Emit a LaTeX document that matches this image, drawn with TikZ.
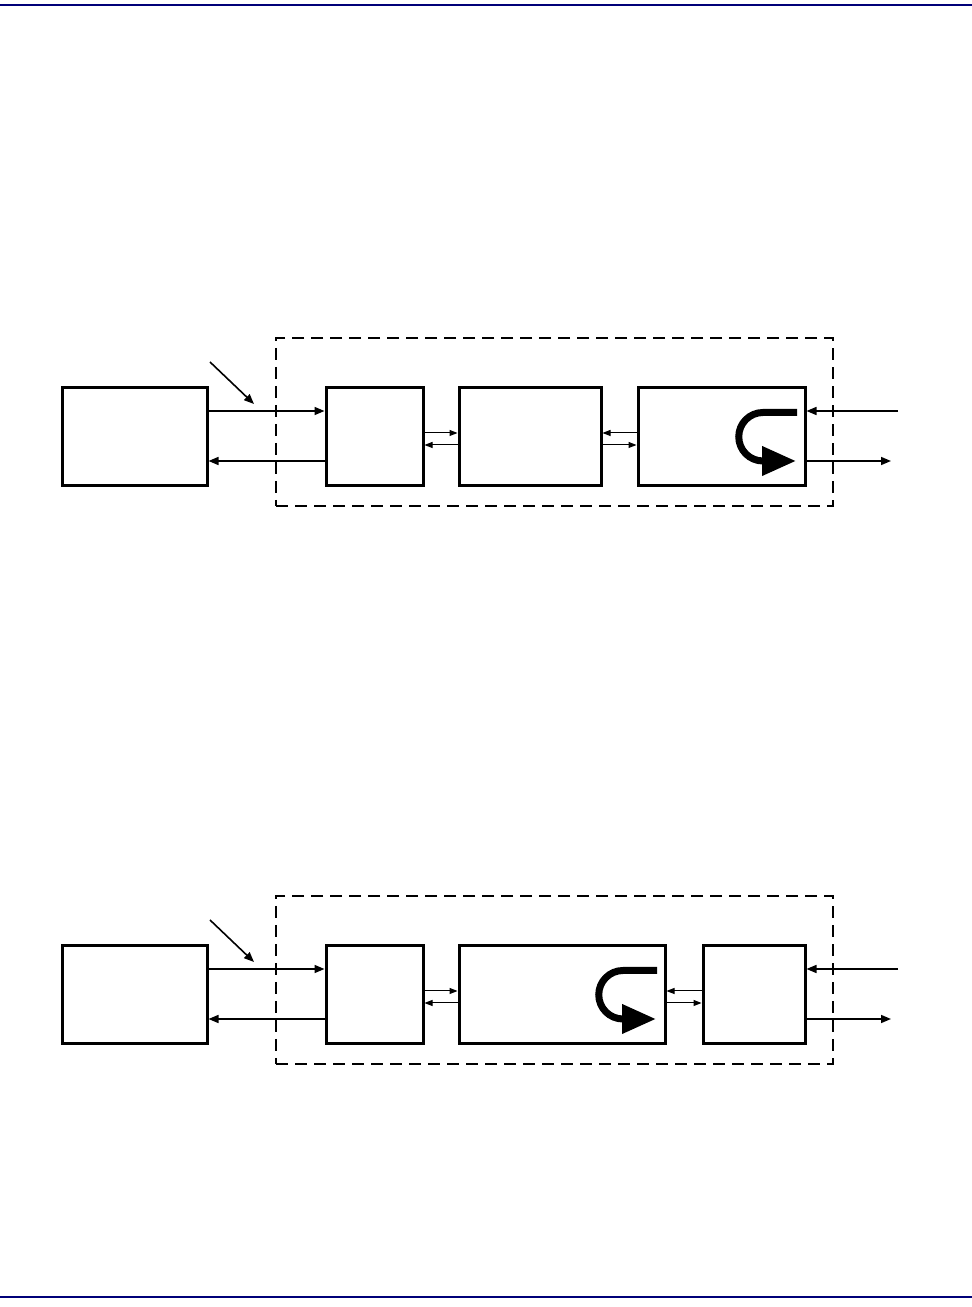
\documentclass[tikz,border=0pt]{standalone}
\usetikzlibrary{arrows.meta}
\definecolor{rulenavy}{RGB}{0,0,120}
\begin{document}
\begin{tikzpicture}[x=1pt,y=1pt,
  blk/.style={draw, line width=3pt, minimum height=98pt, inner sep=0pt},
  encl/.style={draw, line width=1.3pt, dash pattern=on 12pt off 7pt},
  arr/.style={line width=1.6pt, -{Triangle[length=10pt,width=8pt]}},
  sarr/.style={line width=1pt, -{Triangle[length=8pt,width=6pt]}},
  loop/.style={line width=7pt, -{Triangle[length=34pt,width=28pt]}},
  rulebar/.style={draw=rulenavy, line width=2.5pt}]
\useasboundingbox (0,0) rectangle (972,1307);
\coordinate (hl) at (0,1302); \coordinate (hr) at (972,1302);
\coordinate (fl) at (0,10); \coordinate (fr) at (972,10);
\draw[rulebar] (hl) -- (hr);
\draw[rulebar] (fl) -- (fr);

% ---------- diagram 1 ----------
\node[encl, minimum width=557pt, minimum height=168pt] (D1) at (554.5,885) {};
\node[blk, minimum width=145pt] (L1) at (134.5,870) {};
\node[blk, minimum width=97pt] (A1) at (374.5,870) {};
\node[blk, minimum width=142pt] (B1) at (530,870) {};
\node[blk, minimum width=167pt] (C1) at (721.5,870) {};
\draw[arr] ([yshift=26pt]L1.east) -- ([yshift=26pt]A1.west);
\draw[arr] ([yshift=-24pt]A1.west) -- ([yshift=-24pt]L1.east);
\coordinate (p1s) at (210,945); \coordinate (p1e) at (254,903);
\draw[arr] (p1s) -- (p1e);
\draw[sarr] ([yshift=4pt]A1.east) -- ([yshift=4pt]B1.west);
\draw[sarr] ([yshift=-8pt]B1.west) -- ([yshift=-8pt]A1.east);
\draw[sarr] ([yshift=4pt]C1.west) -- ([yshift=4pt]B1.east);
\draw[sarr] ([yshift=-8pt]B1.east) -- ([yshift=-8pt]C1.west);
\coordinate (r1i) at (898,896); \coordinate (r1o) at (891,846);
\draw[arr] (r1i) -- ([yshift=26pt]C1.east);
\draw[arr] ([yshift=-24pt]C1.east) -- (r1o);
\draw[loop] (797,894.5) -- (763,894.5) arc[start angle=90,end angle=270,radius=24.25] -- (796,846);

% ---------- diagram 2 ----------
\node[encl, minimum width=557pt, minimum height=168pt] (D2) at (554.5,327) {};
\node[blk, minimum width=145pt] (L2) at (134.5,312) {};
\node[blk, minimum width=97pt] (A2) at (374.5,312) {};
\node[blk, minimum width=206pt] (B2) at (562,312) {};
\node[blk, minimum width=102pt] (C2) at (754,312) {};
\draw[arr] ([yshift=26pt]L2.east) -- ([yshift=26pt]A2.west);
\draw[arr] ([yshift=-24pt]A2.west) -- ([yshift=-24pt]L2.east);
\coordinate (p2s) at (210,387); \coordinate (p2e) at (254,345);
\draw[arr] (p2s) -- (p2e);
\draw[sarr] ([yshift=4pt]A2.east) -- ([yshift=4pt]B2.west);
\draw[sarr] ([yshift=-8pt]B2.west) -- ([yshift=-8pt]A2.east);
\draw[sarr] ([yshift=4pt]C2.west) -- ([yshift=4pt]B2.east);
\draw[sarr] ([yshift=-8pt]B2.east) -- ([yshift=-8pt]C2.west);
\coordinate (r2i) at (898,338); \coordinate (r2o) at (891,288);
\draw[arr] (r2i) -- ([yshift=26pt]C2.east);
\draw[arr] ([yshift=-24pt]C2.east) -- (r2o);
\draw[loop] (657,336.5) -- (623,336.5) arc[start angle=90,end angle=270,radius=24.25] -- (656,288);
\end{tikzpicture}
\end{document}
